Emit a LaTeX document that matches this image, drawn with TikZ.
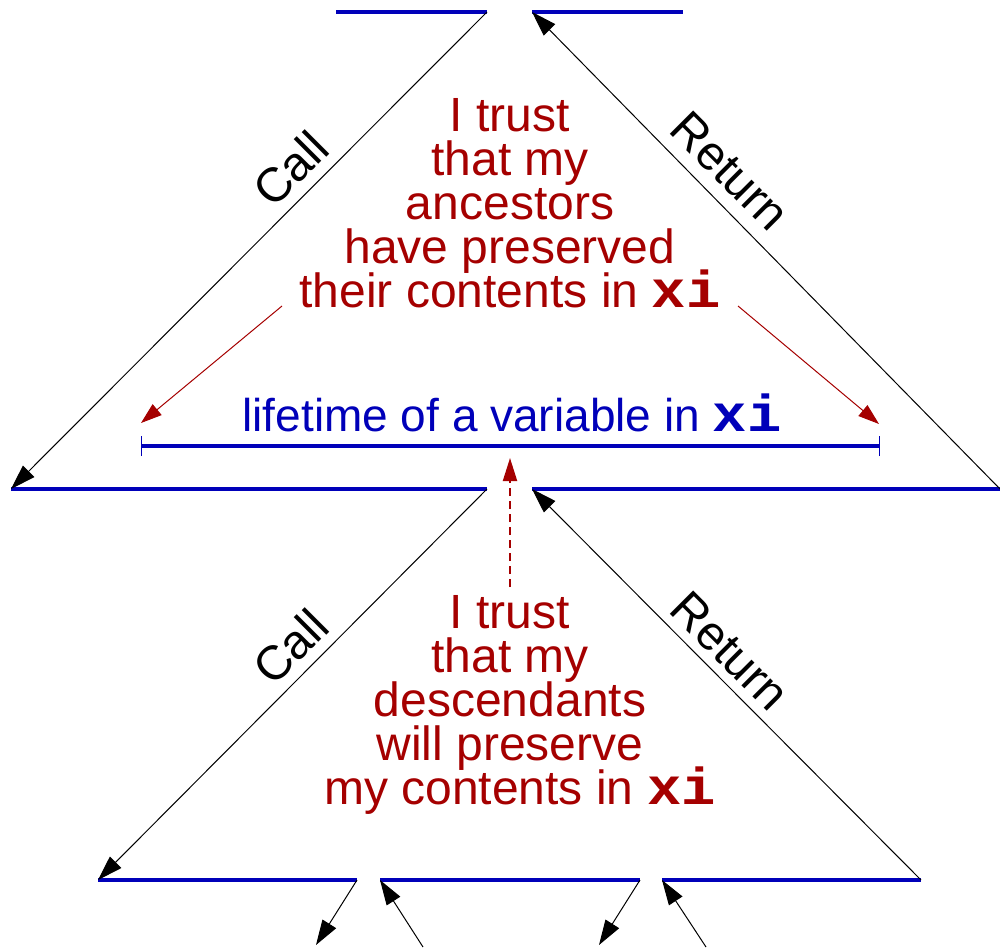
\documentclass[tikz,border=0pt]{standalone}
\usepackage{fontspec}
\setmainfont{Liberation Sans}
\setmonofont{Liberation Mono}
\newfontfamily\xifont[FakeStretch=1.1]{Liberation Mono}
\usetikzlibrary{arrows.meta}
\definecolor{barblue}{RGB}{0,0,185}
\definecolor{txtred}{RGB}{165,0,0}
\newcommand{\xiv}{{\fontsize{52}{44}\xifont\bfseries xi}}
\newcommand{\trustfont}{\fontsize{48}{44}\selectfont\lineskiplimit=-60pt\relax}
\tikzset{
  bar/.style={draw=barblue, line width=4pt, line cap=butt},
  flow/.style={draw=black, line width=1pt, -{Triangle[length=25pt,width=16pt]}},
  redarrow/.style={draw=txtred, line width=1pt, -{Triangle[length=21pt,width=14pt]}},
  reddash/.style={draw=txtred, line width=2pt, dash pattern=on 8pt off 5pt, -{Triangle[length=23pt,width=14pt]}},
  trustbox/.style={text=txtred, align=center, inner sep=0pt, anchor=north, font=\trustfont},
  lbl/.style={text=black, inner sep=0pt, anchor=base, font=\fontsize{48}{56}\selectfont},
  lifetxt/.style={text=barblue, inner sep=0pt, anchor=base, font=\fontsize{46}{54}\selectfont},
}
\begin{document}
\begin{tikzpicture}[x=1pt,y=-1pt]
\useasboundingbox (0,0) rectangle (1000,947);
% bar end points
\coordinate (tL1) at (336,12);  \coordinate (tL2) at (487,12);
\coordinate (tR1) at (532,12);  \coordinate (tR2) at (683,12);
\coordinate (mL1) at (11,489);  \coordinate (mL2) at (487,489);
\coordinate (mR1) at (532,489); \coordinate (mR2) at (1000,489);
\coordinate (bA1) at (98,880);  \coordinate (bA2) at (357,880);
\coordinate (bB1) at (380,880); \coordinate (bB2) at (640,880);
\coordinate (bC1) at (662,880); \coordinate (bC2) at (921,880);
\coordinate (lf1) at (141,446); \coordinate (lf2) at (879,446);
% free ends
\coordinate (o1) at (316,945); \coordinate (o2) at (423,947);
\coordinate (o3) at (599,945); \coordinate (o4) at (706,947);
\coordinate (ra1) at (282,306); \coordinate (ra2) at (738,306);
\coordinate (ds1) at (510,587); \coordinate (ds2) at (510,458);
% bars
\draw[bar] (tL1) -- (tL2);
\draw[bar] (tR1) -- (tR2);
\draw[bar] (mL1) -- (mL2);
\draw[bar] (mR1) -- (mR2);
\draw[bar] (bA1) -- (bA2);
\draw[bar] (bB1) -- (bB2);
\draw[bar] (bC1) -- (bC2);
% lifetime bar
\draw[bar] (lf1) -- (lf2);
\draw[barblue, line width=1pt] ([yshift=-10pt]lf1) -- ([yshift=10pt]lf1);
\draw[barblue, line width=1pt] ([yshift=-10pt]lf2) -- ([yshift=10pt]lf2);
% call / return
\draw[flow] (tL2) -- (mL1);
\draw[flow] (mR2) -- (tR1);
\draw[flow] (mL2) -- (bA1);
\draw[flow] (bC2) -- (mR1);
\draw[flow] (bA2) -- (o1);
\draw[flow] (o2) -- (bB1);
\draw[flow] (bB2) -- (o3);
\draw[flow] (o4) -- (bC1);
% red arrows
\draw[redarrow] (ra1) -- ([shift={(0,-23)}]lf1);
\draw[redarrow] (ra2) -- ([shift={(0,-22)}]lf2);
\draw[reddash] (ds1) -- (ds2);
% labels
\node[lbl, rotate=45] (call1) at (302.5,180.7) {Call};
\node[lbl, rotate=-45] (ret1) at (718.7,182.7) {Return};
\node[lbl, rotate=45] (call2) at (302.5,658.7) {Call};
\node[lbl, rotate=-45] (ret2) at (718.7,662.7) {Return};
% texts
\node[trustbox] (anc) at (510,98.3) {I trust\\that my\\ancestors\\have preserved\\their contents in \xiv};
\node[trustbox] (desc) at (510,595.6) {I trust\\that my\\descendants\\will preserve\\\hspace*{20pt}my contents in \xiv};
\node[lifetxt] (life) at (512,431.7) {lifetime of a variable in \xiv};
\end{tikzpicture}
\end{document}
